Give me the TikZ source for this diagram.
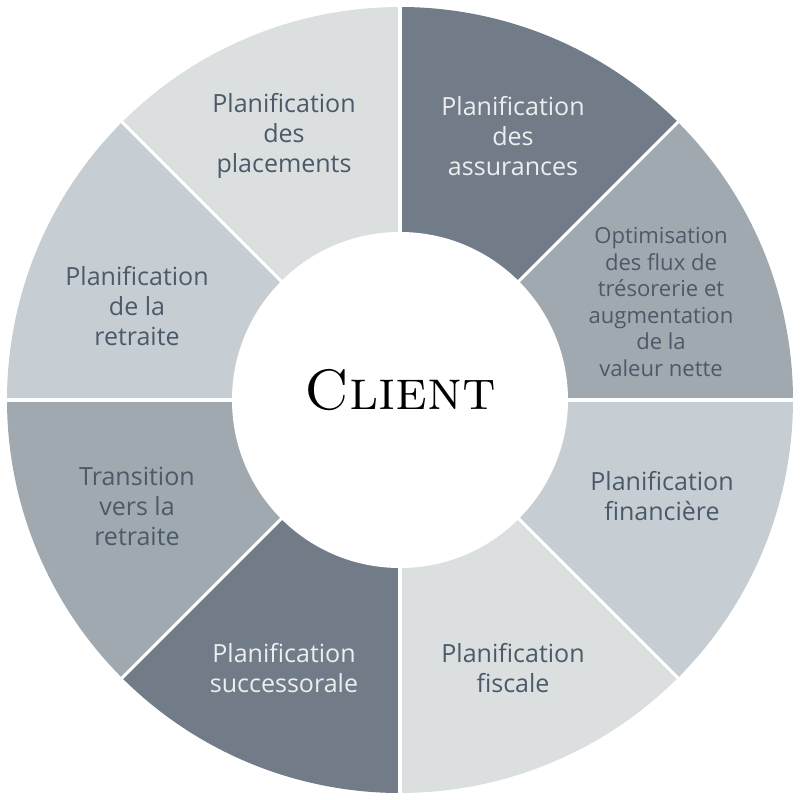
\documentclass[tikz,border=0pt]{standalone}
\usepackage{fontspec}
\setsansfont{Open Sans}
\usepackage{xcolor}
\usepackage{tikz}
\usetikzlibrary{positioning}
\definecolor{cwLight}{HTML}{DCDFE0}
\definecolor{cwPale}{HTML}{C6CED3}
\definecolor{cwMid}{HTML}{A1A9B0}
\definecolor{cwDark}{HTML}{717C88}
\definecolor{cwInk}{HTML}{4B5A68}
\definecolor{cwSnow}{HTML}{ECEEF0}
\tikzset{
  cw wheel/.style={font=\sffamily\fontsize{17.8}{21.3}\selectfont, text=cwInk},
  cw label/.style={align=center, inner sep=0pt},
  cw light label/.style={cw label, text=cwSnow},
  cw small label/.style={cw label, font=\sffamily\fontsize{15.7}{18.8}\selectfont},
  cw gap/.style={draw=white, line width=2.2pt},
  cw hub/.style={font=\rmfamily\scshape\fontsize{40.5}{44}\selectfont, text=black}
}
\begin{document}
\begin{tikzpicture}[cw wheel]
\useasboundingbox (-10,-10) rectangle (10,10);
% segments
\fill[cwLight] (0,0) -- (90:9.825) arc (90:135:9.825) -- cycle;
\fill[cwDark] (0,0) -- (45:9.825) arc (45:90:9.825) -- cycle;
\fill[cwMid] (0,0) -- (0:9.825) arc (0:45:9.825) -- cycle;
\fill[cwPale] (0,0) -- (-45:9.825) arc (-45:0:9.825) -- cycle;
\fill[cwLight] (0,0) -- (-90:9.825) arc (-90:-45:9.825) -- cycle;
\fill[cwDark] (0,0) -- (-135:9.825) arc (-135:-90:9.825) -- cycle;
\fill[cwMid] (0,0) -- (180:9.825) arc (180:225:9.825) -- cycle;
\fill[cwPale] (0,0) -- (135:9.825) arc (135:180:9.825) -- cycle;
% gaps
\draw[cw gap] (0:4.2) -- (0:9.9);
\draw[cw gap] (45:4.2) -- (45:9.9);
\draw[cw gap] (90:4.2) -- (90:9.9);
\draw[cw gap] (135:4.2) -- (135:9.9);
\draw[cw gap] (180:4.2) -- (180:9.9);
\draw[cw gap] (225:4.2) -- (225:9.9);
\draw[cw gap] (270:4.2) -- (270:9.9);
\draw[cw gap] (315:4.2) -- (315:9.9);
\fill[white] (0,0) circle (4.2);
% hub
\node[cw hub] (client) at (0,0.25) {Client};
% labels
\node[cw label] (placements) at (-2.9,6.6) {Planification\\des\\placements};
\node[cw light label] (assurances) at (2.825,6.6) {Planification\\des\\assurances};
\node[cw small label] (tresorerie) at (6.525,2.45) {Optimisation\\des flux de\\trésorerie et\\augmentation\\de la\\valeur nette};
\node[cw label] (financiere) at (6.55,-2.4) {Planification\\financière};
\node[cw label] (fiscale) at (2.825,-6.7) {Planification\\fiscale};
\node[cw light label] (successorale) at (-2.9,-6.7) {Planification\\successorale};
\node[cw label] (transition) at (-6.575,-2.65) {Transition\\vers la\\retraite};
\node[cw label] (retraite) at (-6.575,2.35) {Planification\\de la\\retraite};
\end{tikzpicture}
\end{document}
